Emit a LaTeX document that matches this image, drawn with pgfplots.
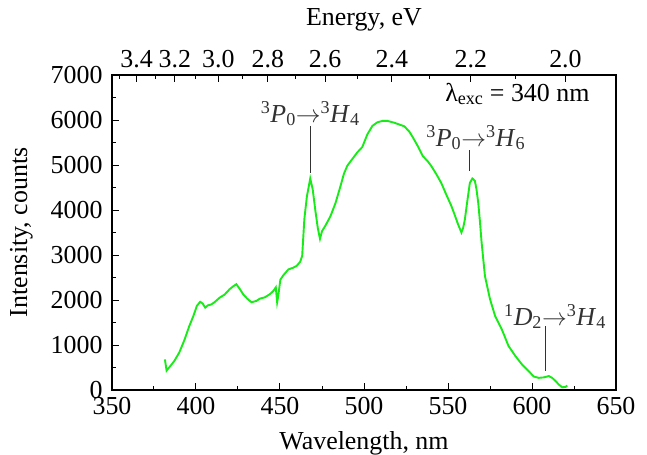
\documentclass[border=0pt]{standalone}
\usepackage{pgfplots}
\pgfplotsset{compat=1.18}
\usepackage{fontspec}
\setmainfont{Liberation Serif}
\definecolor{specgreen}{RGB}{25,235,25}
\definecolor{annot}{RGB}{50,50,50}
\pgfplotstableread{
lam I
381.5 680
382.5 430
384 500
387 640
390 830
393 1100
396 1420
398.5 1650
400.5 1870
402.5 1960
404 1920
405.5 1830
407 1880
409 1900
411 1950
414 2050
417 2120
420 2240
422 2300
424 2350
426 2250
428 2130
430.5 2030
433 1950
436 1980
438 2030
441 2060
444 2130
446 2200
447.5 2280
448.3 1950
449 2100
450.2 2450
452 2550
455 2680
458 2720
460 2760
462 2850
463.2 2980
464.5 3800
466 4300
468 4700
469.5 4450
471 4000
472.5 3600
473.8 3360
475 3530
477 3650
480 3860
483 4150
486 4530
488 4800
490 4980
493 5130
496 5280
499 5400
502 5680
505 5870
508 5950
511 5980
514 5980
518 5940
521 5900
524 5860
527 5740
529 5620
532 5420
535 5200
538 5080
540 4980
543 4800
546 4600
549 4340
552 4090
554 3890
556 3680
558 3500
559 3600
560 3780
561.5 4200
563 4600
564.5 4700
566 4650
567 4450
568 4160
569 3750
570 3280
572 2530
575 2020
578 1650
582 1350
586 980
590 760
594 570
598 420
601 300
604 270
607 280
610 310
612 270
614 200
616 120
618 60
620 70
621 100
}\spectrum
\begin{document}
\begin{tikzpicture}
\path[use as bounding box] (-112bp,-65bp) rectangle (535bp,390bp);
\pgfplotsset{
  common/.style={
    at={(0bp,0bp)}, anchor=south west,
    scale only axis, width=504bp, height=315bp,
    xmin=350, xmax=650, ymin=0, ymax=7000,
    axis line style={line width=1.6bp, black},
    tick style={line width=1bp, black},
    major tick length=7bp, minor tick length=4bp,
    tick align=inside,
    /pgf/number format/assume math mode=true,
    /pgf/number format/1000 sep={},
    scaled ticks=false,
    tick label style={font=\fontsize{26}{28}\selectfont},
    label style={font=\fontsize{26}{28}\selectfont},
  }
}
\begin{axis}[common,
  xtick={350,400,...,650}, minor xtick={375,425,...,625},
  ytick={0,1000,...,7000}, minor ytick={500,1500,...,6500},
  xtick pos=bottom, ytick pos=left,
  xticklabel style={yshift=-4bp},
  yticklabel style={xshift=-6bp},
  xlabel={Wavelength, nm},
  ylabel={Intensity, counts},
  xlabel style={yshift=-10bp},
  ylabel style={yshift=11bp},
]
\addplot[color=specgreen, line width=1.9bp] table[x=lam, y=I] {\spectrum};
\node[annot, anchor=base, font=\fontsize{26}{28}\selectfont] at (axis cs:468,5950)
  {\textsuperscript{3}\textit{P}\textsubscript{0}$\rightarrow$\textsuperscript{3}\textit{H}\textsubscript{4}};
\draw[annot, line width=1.3bp] (axis cs:468,5870) -- (axis cs:468,4830);
\node[annot, anchor=base, font=\fontsize{26}{28}\selectfont] at (axis cs:566.5,5420)
  {\textsuperscript{3}\textit{P}\textsubscript{0}$\rightarrow$\textsuperscript{3}\textit{H}\textsubscript{6}};
\draw[annot, line width=1.3bp] (axis cs:562.7,5330) -- (axis cs:562.7,4870);
\node[annot, anchor=base, font=\fontsize{26}{28}\selectfont] at (axis cs:613.7,1440)
  {\textsuperscript{1}\textit{D}\textsubscript{2}$\rightarrow$\textsuperscript{3}\textit{H}\textsubscript{4}};
\draw[annot, line width=1.3bp] (axis cs:608.1,1420) -- (axis cs:608.1,420);
\node[black, anchor=base, font=\fontsize{26}{28}\selectfont] at (axis cs:591.3,6420)
  {λ\textsubscript{exc} = 340 nm};
\end{axis}
\begin{axis}[common,
  axis x line*=top, axis y line=none,
  xtick={364.66,387.45,413.28,442.80,476.86,516.60,563.56,619.92},
  xticklabels={3.4,3.2,3.0,2.8,2.6,2.4,2.2,2.0},
  minor xtick={354.24,375.71,399.95,427.53,459.20,495.94,539.06,590.40},
  xticklabel style={yshift=4bp},
  xlabel={Energy, eV},
  xlabel style={yshift=12bp},
]
\addplot[draw=none] coordinates {(400,100)};
\end{axis}
\end{tikzpicture}
\end{document}
